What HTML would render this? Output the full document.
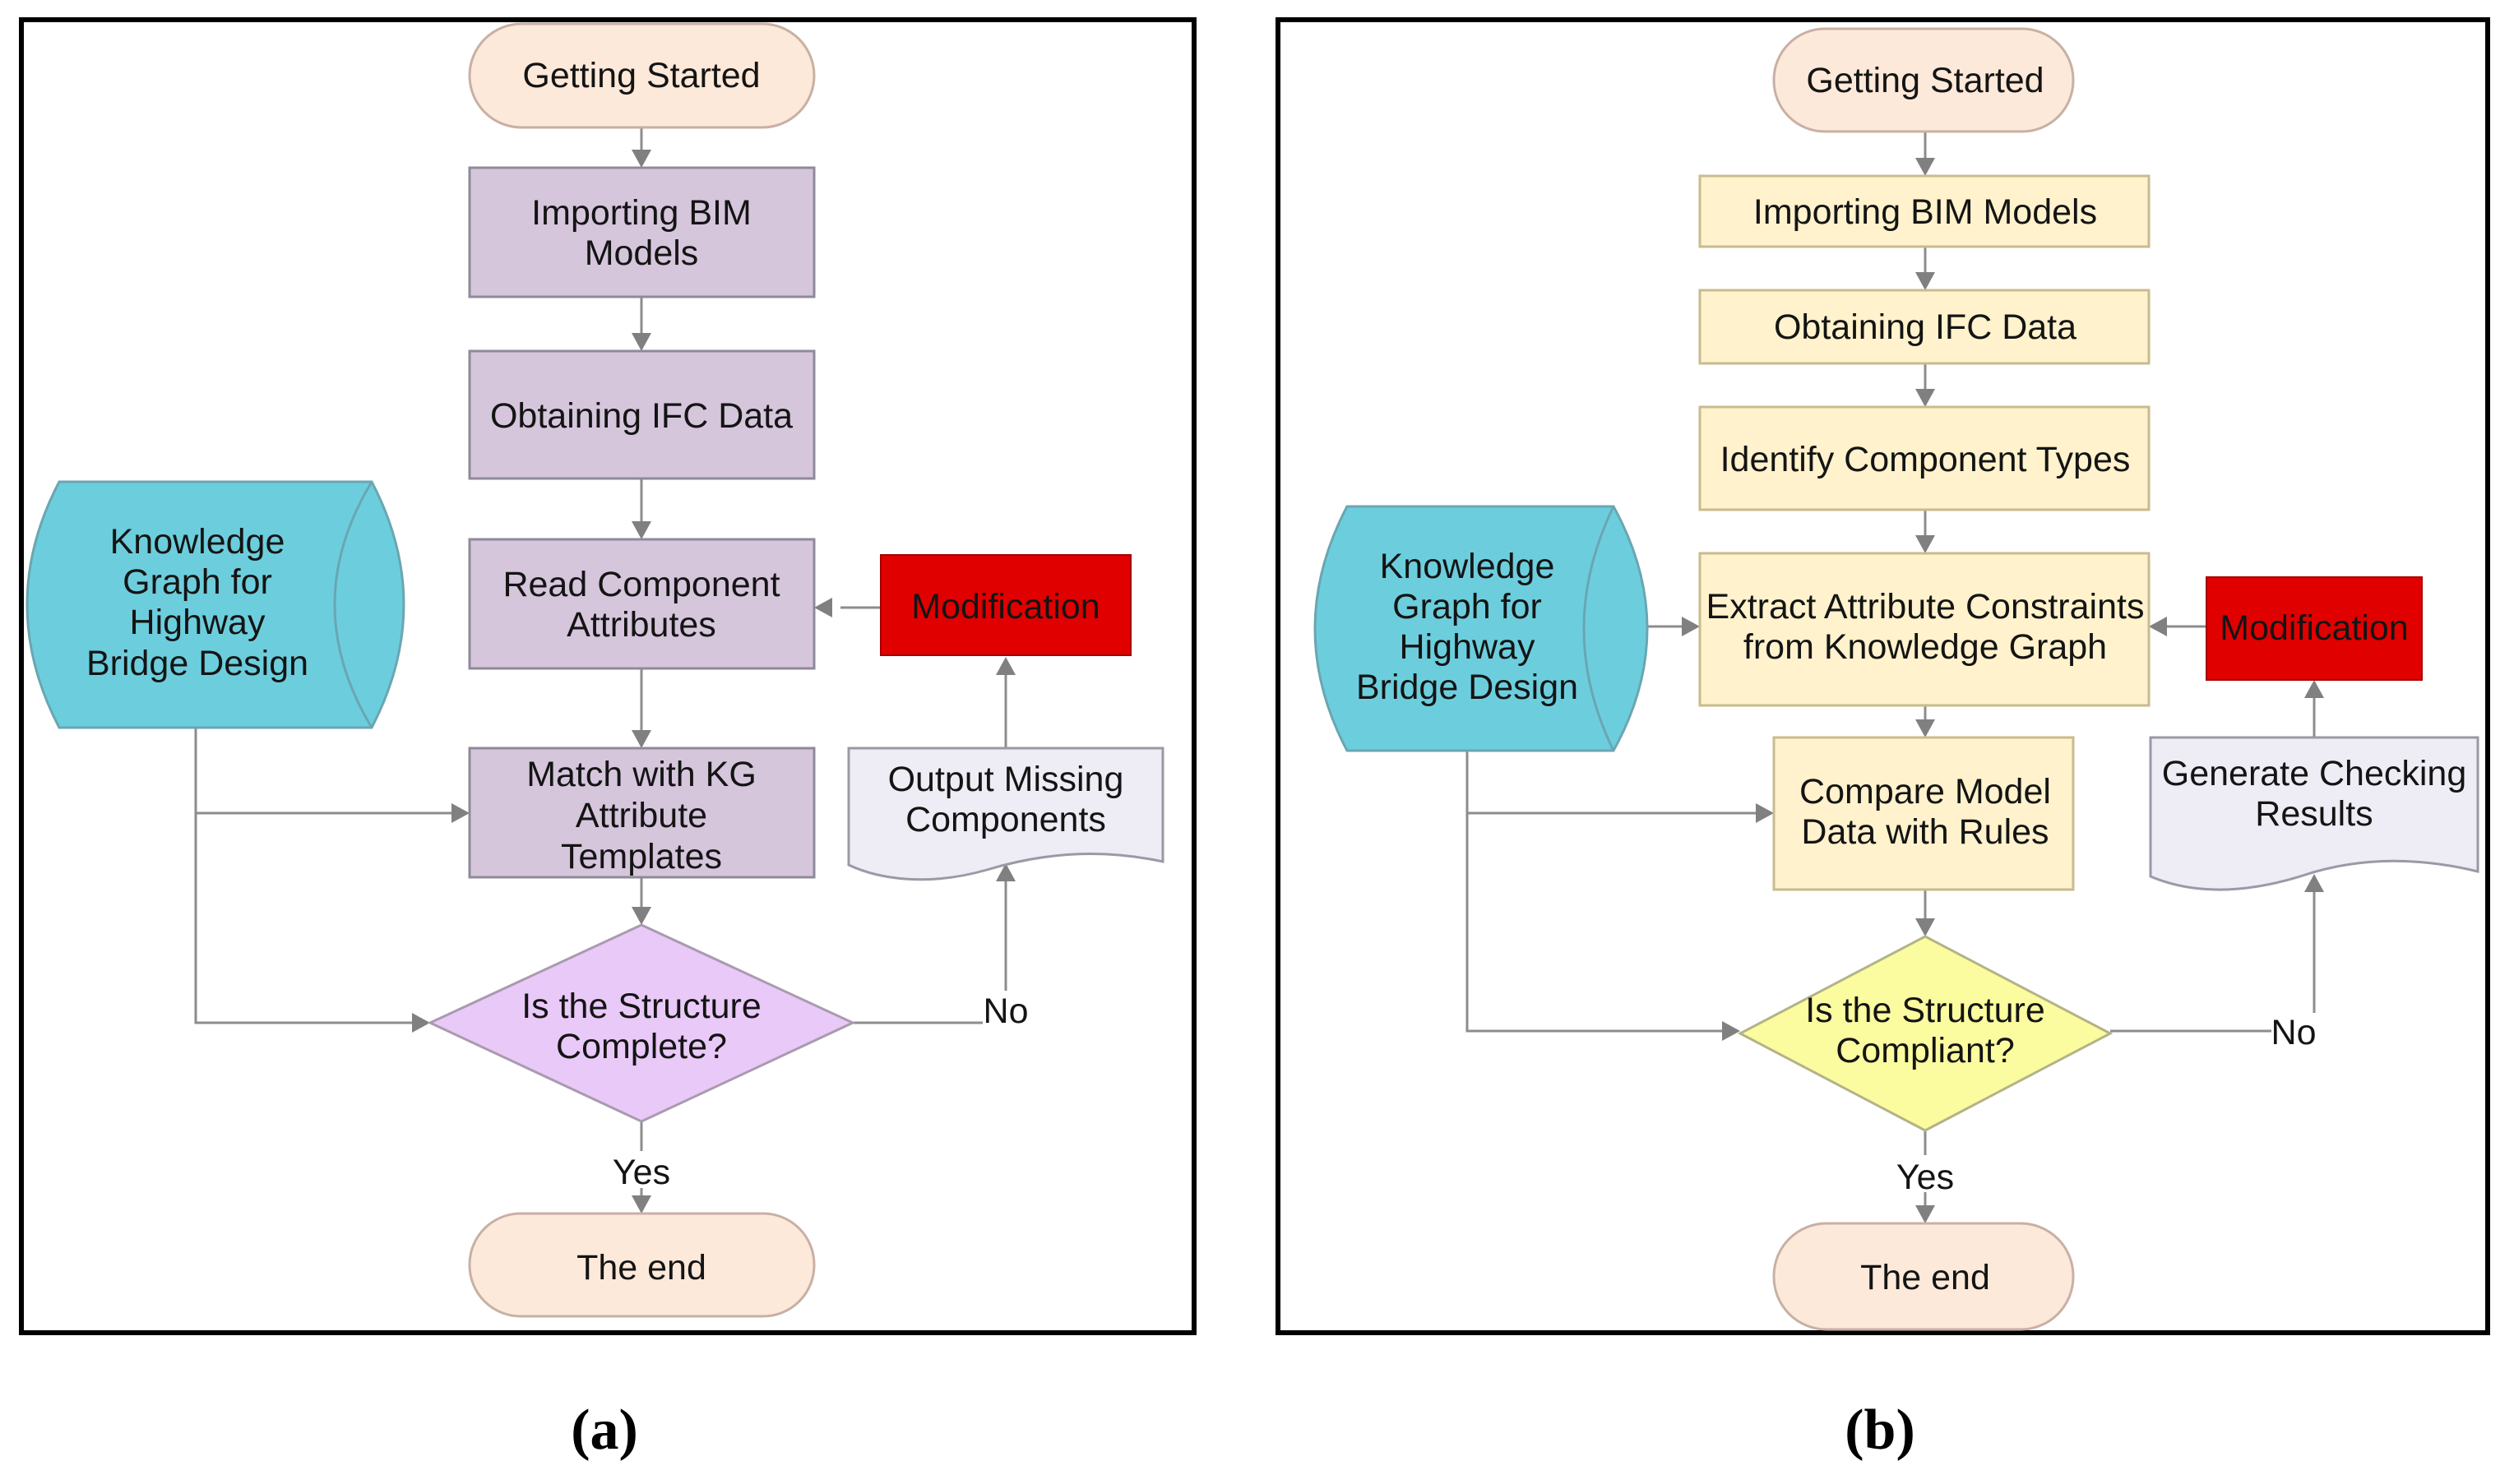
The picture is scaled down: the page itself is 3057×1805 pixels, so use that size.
<!DOCTYPE html>
<html><head><meta charset="utf-8"><style>
html,body{margin:0;padding:0;background:#fff;}
svg{display:block;}
text{font-family:"Liberation Sans",sans-serif;font-size:43px;fill:#141414;text-anchor:middle;}
.lab{font-family:"Liberation Serif",serif;font-weight:bold;font-size:70px;fill:#000;}
</style></head><body>
<svg width="3057" height="1805" viewBox="0 0 3057 1805" xmlns="http://www.w3.org/2000/svg">
<g id="a">
<rect x="26" y="24" width="1426" height="1597" fill="none" stroke="#000" stroke-width="6"/>
<g stroke="#8c8c8c" stroke-width="3" fill="none">
<line x1="780" y1="155" x2="780" y2="190"/>
<line x1="780" y1="361" x2="780" y2="413"/>
<line x1="780" y1="582" x2="780" y2="642"/>
<line x1="780" y1="813" x2="780" y2="896"/>
<line x1="780" y1="1067" x2="780" y2="1111"/>
<line x1="780" y1="1364" x2="780" y2="1400"/>
<line x1="780" y1="1445" x2="780" y2="1462"/>
<polyline points="238,885 238,1244 509,1244"/>
<polyline points="238,989 557,989"/>
<polyline points="1037,1244 1195,1244"/>
<line x1="1223" y1="1205" x2="1223" y2="1070"/>
<line x1="1223" y1="910" x2="1223" y2="819"/>
<line x1="1071" y1="739" x2="1022" y2="739"/>
</g>
<g fill="#808080">
<polygon points="768,182 792,182 780,204"/>
<polygon points="768,405 792,405 780,427"/>
<polygon points="768,634 792,634 780,656"/>
<polygon points="768,888 792,888 780,910"/>
<polygon points="768,1103 792,1103 780,1125"/>
<polygon points="768,1454 792,1454 780,1476"/>
<polygon points="501,1232 501,1256 523,1244"/>
<polygon points="549,977 549,1001 571,989"/>
<polygon points="1211,1072 1235,1072 1223,1050"/>
<polygon points="1211,821 1235,821 1223,799"/>
<polygon points="1012,727 1012,751 990,739"/>
</g>
<rect x="571" y="29" width="419" height="126" rx="63" fill="#fde9d9" stroke="#c8b0a4" stroke-width="3"/>
<text x="780" y="106">Getting Started</text>
<rect x="571" y="204" width="419" height="157" fill="#d5c6dc" stroke="#8e8a98" stroke-width="3"/>
<text x="780" y="273">Importing BIM</text><text x="780" y="322">Models</text>
<rect x="571" y="427" width="419" height="155" fill="#d5c6dc" stroke="#8e8a98" stroke-width="3"/>
<text x="780" y="520">Obtaining IFC Data</text>
<rect x="571" y="656" width="419" height="157" fill="#d5c6dc" stroke="#8e8a98" stroke-width="3"/>
<text x="780" y="725">Read Component</text><text x="780" y="774">Attributes</text>
<rect x="571" y="910" width="419" height="157" fill="#d5c6dc" stroke="#8e8a98" stroke-width="3"/>
<text x="780" y="956">Match with KG</text><text x="780" y="1006">Attribute</text><text x="780" y="1056">Templates</text>
<polygon points="780,1125 1037,1244 780,1364 523,1244" fill="#e9c9f7" stroke="#a99ab0" stroke-width="3"/>
<text x="780" y="1238">Is the Structure</text><text x="780" y="1287">Complete?</text>
<text x="1223" y="1244">No</text>
<rect x="745" y="1402" width="70" height="42" fill="#fff"/>
<text x="780" y="1440">Yes</text>
<rect x="571" y="1476" width="419" height="125" rx="62" fill="#fde9d9" stroke="#c8b0a4" stroke-width="3"/>
<text x="780" y="1556">The end</text>
<path d="M72,586 L452,586 Q530,735 452,885 L72,885 Q-6,735 72,586 Z" fill="#6ccedd" stroke="#6aa6b2" stroke-width="3"/>
<path d="M452,586 Q362,735 452,885" fill="none" stroke="#6aa6b2" stroke-width="3"/>
<text x="240" y="673">Knowledge</text><text x="240" y="722">Graph for</text><text x="240" y="771">Highway</text><text x="240" y="821">Bridge Design</text>
<rect x="1071" y="675" width="304" height="122" fill="#e00000" stroke="#a50000" stroke-width="2"/>
<text x="1223" y="752">Modification</text>
<path d="M1032,910 H1414 V1048 C1330,1030 1260,1040 1200,1058 C1130,1078 1070,1070 1032,1052 Z" fill="#eeecf4" stroke="#9a9aa6" stroke-width="3"/>
<text x="1223" y="962">Output Missing</text><text x="1223" y="1011">Components</text>
<text class="lab" x="735" y="1762">(a)</text>
</g>
<g id="b">
<rect x="1554" y="24" width="1471" height="1597" fill="none" stroke="#000" stroke-width="6"/>
<g stroke="#8c8c8c" stroke-width="3" fill="none">
<line x1="2341" y1="160" x2="2341" y2="200"/>
<line x1="2341" y1="300" x2="2341" y2="339"/>
<line x1="2341" y1="442" x2="2341" y2="481"/>
<line x1="2341" y1="620" x2="2341" y2="659"/>
<line x1="2341" y1="858" x2="2341" y2="883"/>
<line x1="2341" y1="1082" x2="2341" y2="1125"/>
<line x1="2341" y1="1375" x2="2341" y2="1405"/>
<line x1="2341" y1="1450" x2="2341" y2="1474"/>
<polyline points="1784,913 1784,1254 2102,1254"/>
<polyline points="1784,989 2143,989"/>
<line x1="1970" y1="762" x2="2053" y2="762"/>
<polyline points="2566,1254 2814,1254 2814,1078"/>
<line x1="2814" y1="897" x2="2814" y2="841"/>
<line x1="2683" y1="762" x2="2627" y2="762"/>
</g>
<g fill="#808080">
<polygon points="2329,192 2353,192 2341,214"/>
<polygon points="2329,331 2353,331 2341,353"/>
<polygon points="2329,473 2353,473 2341,495"/>
<polygon points="2329,651 2353,651 2341,673"/>
<polygon points="2329,875 2353,875 2341,897"/>
<polygon points="2329,1117 2353,1117 2341,1139"/>
<polygon points="2329,1466 2353,1466 2341,1488"/>
<polygon points="2094,1242 2094,1266 2116,1254"/>
<polygon points="2135,977 2135,1001 2157,989"/>
<polygon points="2045,750 2045,774 2067,762"/>
<polygon points="2802,1085 2826,1085 2814,1063"/>
<polygon points="2802,849 2826,849 2814,827"/>
<polygon points="2635,750 2635,774 2613,762"/>
</g>
<rect x="2157" y="35" width="364" height="125" rx="62" fill="#fde9d9" stroke="#c8b0a4" stroke-width="3"/>
<text x="2341" y="112">Getting Started</text>
<rect x="2067" y="214" width="546" height="86" fill="#fff2cc" stroke="#c9bb8e" stroke-width="3"/>
<text x="2341" y="272">Importing BIM Models</text>
<rect x="2067" y="353" width="546" height="89" fill="#fff2cc" stroke="#c9bb8e" stroke-width="3"/>
<text x="2341" y="412">Obtaining IFC Data</text>
<rect x="2067" y="495" width="546" height="125" fill="#fff2cc" stroke="#c9bb8e" stroke-width="3"/>
<text x="2341" y="573">Identify Component Types</text>
<rect x="2067" y="673" width="546" height="185" fill="#fff2cc" stroke="#c9bb8e" stroke-width="3"/>
<text x="2341" y="752">Extract Attribute Constraints</text><text x="2341" y="801">from Knowledge Graph</text>
<rect x="2157" y="897" width="364" height="185" fill="#fff2cc" stroke="#c9bb8e" stroke-width="3"/>
<text x="2341" y="977">Compare Model</text><text x="2341" y="1026">Data with Rules</text>
<polygon points="2341,1139 2566,1257 2341,1375 2116,1257" fill="#fbfb9f" stroke="#b3b388" stroke-width="3"/>
<text x="2341" y="1243">Is the Structure</text><text x="2341" y="1292">Compliant?</text>
<rect x="2762" y="1232" width="55" height="42" fill="#fff"/>
<text x="2789" y="1270">No</text>
<rect x="2306" y="1408" width="70" height="42" fill="#fff"/>
<text x="2341" y="1446">Yes</text>
<rect x="2157" y="1488" width="364" height="129" rx="64" fill="#fde9d9" stroke="#c8b0a4" stroke-width="3"/>
<text x="2341" y="1568">The end</text>
<path d="M1638,616 L1962,616 Q2044,765 1962,913 L1638,913 Q1560,765 1638,616 Z" fill="#6ccedd" stroke="#6aa6b2" stroke-width="3"/>
<path d="M1962,616 Q1890,765 1962,913" fill="none" stroke="#6aa6b2" stroke-width="3"/>
<text x="1784" y="703">Knowledge</text><text x="1784" y="752">Graph for</text><text x="1784" y="801">Highway</text><text x="1784" y="850">Bridge Design</text>
<rect x="2683" y="702" width="262" height="125" fill="#e00000" stroke="#a50000" stroke-width="2"/>
<text x="2814" y="778">Modification</text>
<path d="M2615,897 H3013 V1060 C2930,1040 2860,1045 2800,1065 C2720,1090 2660,1085 2615,1066 Z" fill="#eeecf4" stroke="#9a9aa6" stroke-width="3"/>
<text x="2814" y="955">Generate Checking</text><text x="2814" y="1004">Results</text>
<text class="lab" x="2286" y="1762">(b)</text>
</g>
</svg>
</body></html>
